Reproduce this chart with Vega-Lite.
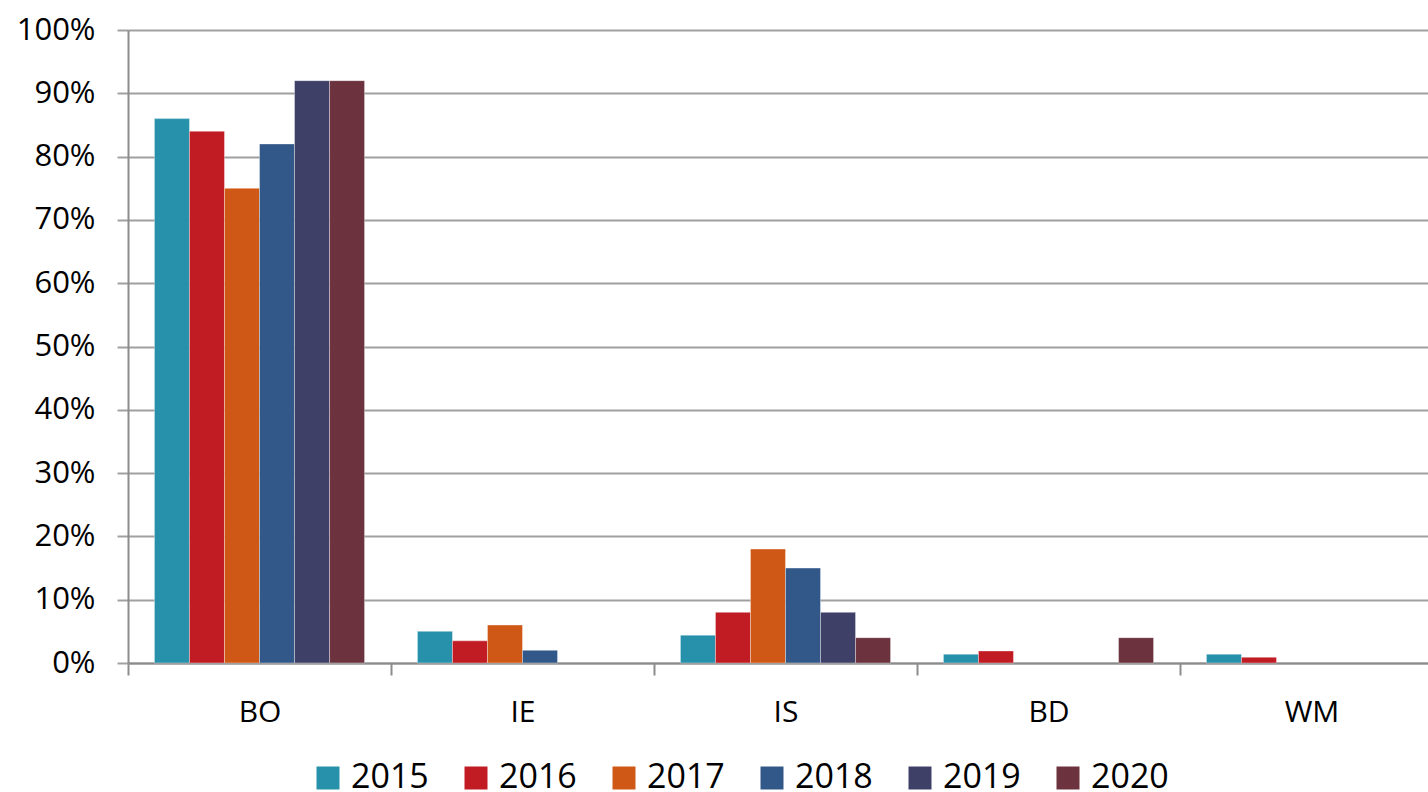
{
  "$schema": "https://vega.github.io/schema/vega-lite/v6.json",
  "width": 1300,
  "height": 633,
  "autosize": {"type": "none"},
  "padding": {"left": 128, "top": 30, "right": 0, "bottom": 129},
  "background": "white",
  "config": {"font": "Open Sans", "view": {"stroke": null}},
  "data": {"values": [
    {"cat": "BO", "year": "2015", "v": 0.86},
    {"cat": "BO", "year": "2016", "v": 0.84},
    {"cat": "BO", "year": "2017", "v": 0.75},
    {"cat": "BO", "year": "2018", "v": 0.82},
    {"cat": "BO", "year": "2019", "v": 0.92},
    {"cat": "BO", "year": "2020", "v": 0.92},
    {"cat": "IE", "year": "2015", "v": 0.05},
    {"cat": "IE", "year": "2016", "v": 0.035},
    {"cat": "IE", "year": "2017", "v": 0.06},
    {"cat": "IE", "year": "2018", "v": 0.02},
    {"cat": "IS", "year": "2015", "v": 0.044},
    {"cat": "IS", "year": "2016", "v": 0.08},
    {"cat": "IS", "year": "2017", "v": 0.18},
    {"cat": "IS", "year": "2018", "v": 0.15},
    {"cat": "IS", "year": "2019", "v": 0.08},
    {"cat": "IS", "year": "2020", "v": 0.04},
    {"cat": "BD", "year": "2015", "v": 0.014},
    {"cat": "BD", "year": "2016", "v": 0.019},
    {"cat": "BD", "year": "2020", "v": 0.04},
    {"cat": "WM", "year": "2015", "v": 0.014},
    {"cat": "WM", "year": "2016", "v": 0.009}
  ]},
  "mark": {"type": "bar", "stroke": "white", "strokeWidth": 0.6, "strokeOpacity": 0.6},
  "encoding": {
    "x": {
      "field": "cat", "type": "nominal",
      "sort": ["BO", "IE", "IS", "BD", "WM"],
      "scale": {"range": [0, 1315], "paddingInner": 0, "paddingOuter": 0},
      "axis": {
        "title": null, "labelAngle": 0, "grid": false,
        "domain": true, "domainColor": "#8c8c8c", "domainWidth": 2,
        "ticks": true, "tickBand": "extent", "tickColor": "#8c8c8c", "tickWidth": 2, "tickSize": 12,
        "labelFontSize": 30, "labelColor": "#000000", "labelPadding": 22
      }
    },
    "xOffset": {
      "field": "year", "type": "nominal",
      "sort": ["2015", "2016", "2017", "2018", "2019", "2020"],
      "scale": {"domain": ["2015", "2016", "2017", "2018", "2019", "2020"], "paddingInner": 0, "paddingOuter": 0.755}
    },
    "y": {
      "field": "v", "type": "quantitative",
      "scale": {"domain": [0, 1]},
      "axis": {
        "title": null, "values": [0, 0.1, 0.2, 0.3, 0.4, 0.5, 0.6, 0.7, 0.8, 0.9, 1],
        "format": ".0%", "grid": true, "gridColor": "#a0a0a0", "gridWidth": 2,
        "domain": true, "domainColor": "#8c8c8c", "domainWidth": 2,
        "ticks": true, "tickColor": "#a0a0a0", "tickWidth": 2, "tickSize": 11,
        "labelFontSize": 31, "labelColor": "#000000", "labelPadding": 22
      }
    },
    "color": {
      "field": "year", "type": "nominal",
      "scale": {
        "domain": ["2015", "2016", "2017", "2018", "2019", "2020"],
        "range": ["#2790ab", "#c11b24", "#d05816", "#325889", "#3e4068", "#6c333f"]
      },
      "legend": {
        "title": null, "orient": "none", "direction": "horizontal",
        "legendX": 183, "legendY": 731, "padding": 0,
        "symbolType": "square", "symbolSize": 529, "symbolStrokeWidth": 0,
        "labelFontSize": 34, "labelColor": "#000000", "labelOffset": 6, "labelDy": -3,
        "columnPadding": 30
      }
    }
  }
}
